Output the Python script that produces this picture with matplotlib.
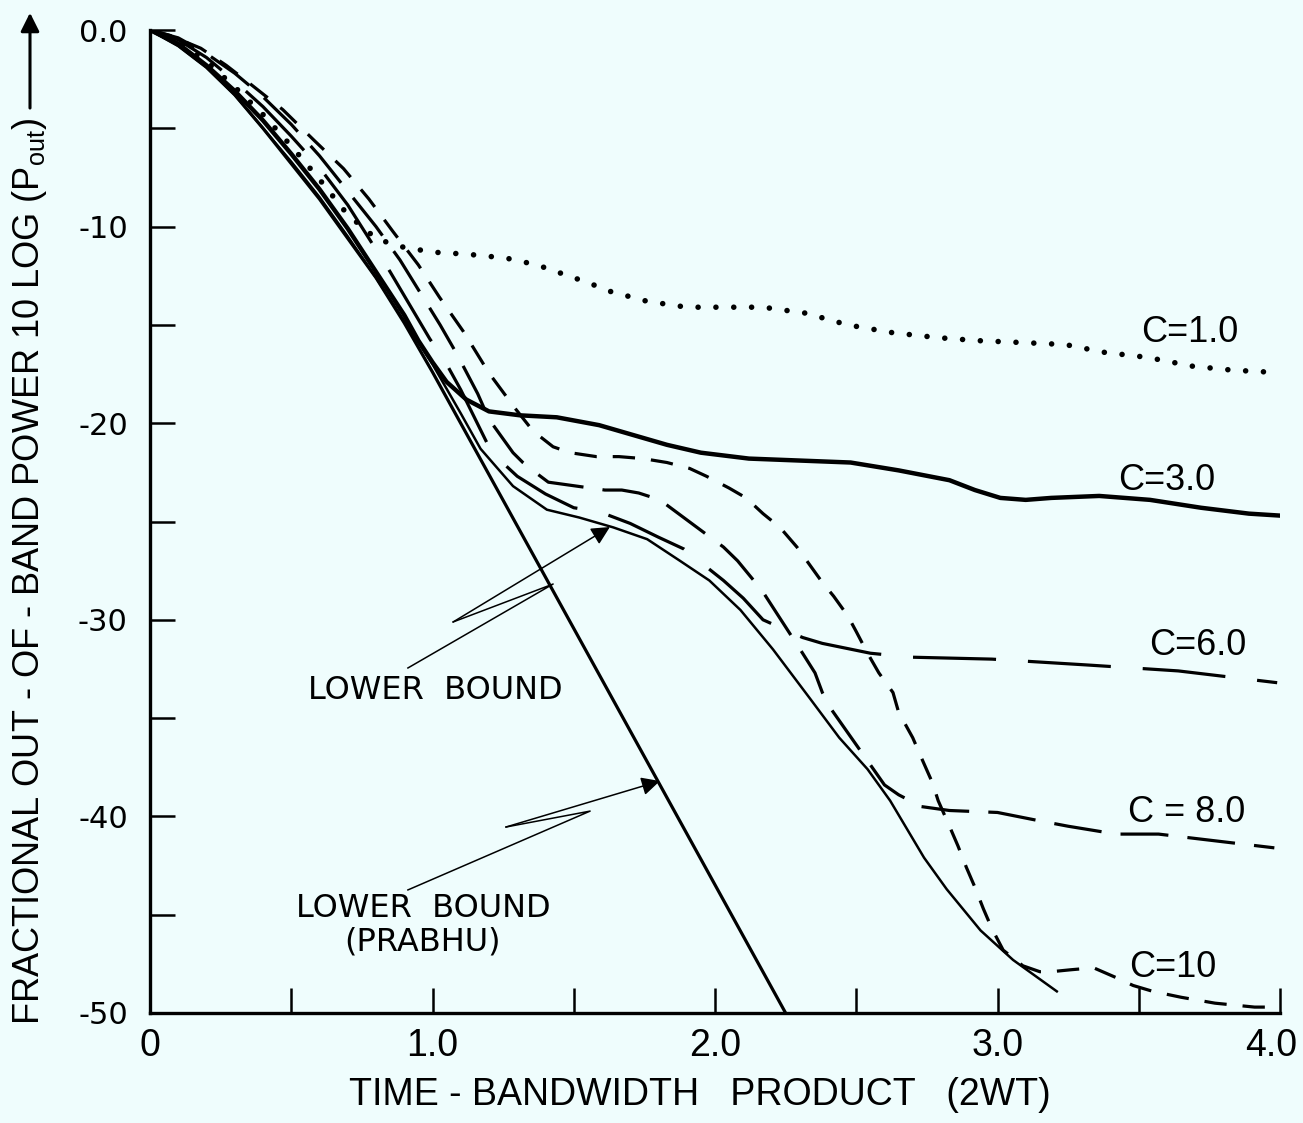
import matplotlib
matplotlib.use("Agg")
import matplotlib.pyplot as plt
from matplotlib import font_manager
from matplotlib.transforms import ScaledTranslation

# fonts: a narrow face for most texts, if one is there
names = {f.name for f in font_manager.fontManager.ttflist}
narrow = "Liberation Sans Narrow" if "Liberation Sans Narrow" in names else "Liberation Sans"
plt.rcParams["font.family"] = [narrow, "DejaVu Sans"]
plt.rcParams["mathtext.fontset"] = "custom"
plt.rcParams["mathtext.rm"] = narrow

bg = "#effdfd"

# ---- data (x = 2WT, y = dB) ----
x_c1 = [0, 0.1, 0.2, 0.3, 0.4, 0.5, 0.6, 0.7, 0.8, 0.88, 1.0, 1.12, 1.26, 1.37, 1.48,
        1.55, 1.63, 1.76, 1.9, 2.04, 2.17, 2.32, 2.47, 2.63, 2.79, 2.93, 3.09, 3.24,
        3.38, 3.53, 3.69, 3.83, 3.96]
y_c1 = [0, -0.6, -1.6, -2.9, -4.3, -5.9, -7.6, -9.4, -10.6, -11.0, -11.3, -11.4, -11.6,
        -11.95, -12.5, -12.85, -13.3, -13.8, -14.1, -14.1, -14.1, -14.4, -15.0, -15.4,
        -15.65, -15.8, -15.9, -16.0, -16.4, -16.65, -17.1, -17.3, -17.4]

x_c3 = [0, 0.1, 0.2, 0.3, 0.4, 0.5, 0.6, 0.7, 0.8, 0.9, 0.95, 1.0, 1.05, 1.12, 1.2,
        1.31, 1.44, 1.59, 1.71, 1.83, 1.95, 2.12, 2.3, 2.48, 2.65, 2.83, 2.92, 3.01,
        3.1, 3.19, 3.36, 3.54, 3.72, 3.89, 4.0]
y_c3 = [0, -0.7, -1.8, -3.1, -4.6, -6.3, -8.1, -10.1, -12.3, -14.5, -15.8, -16.9, -17.9,
        -18.8, -19.4, -19.6, -19.7, -20.1, -20.6, -21.1, -21.5, -21.8, -21.9, -22.0,
        -22.4, -22.9, -23.4, -23.8, -23.9, -23.8, -23.7, -23.9, -24.3, -24.6, -24.7]

x_c6 = [0, 0.1, 0.2, 0.3, 0.4, 0.5, 0.6, 0.7, 0.85, 0.99, 1.05, 1.1, 1.21, 1.3, 1.4,
        1.5, 1.59, 1.7, 1.8, 1.89, 1.96, 2.03, 2.1, 2.17, 2.31, 2.38, 2.55, 2.69, 2.98,
        3.32, 3.64, 3.99]
y_c6 = [0, -0.5, -1.4, -2.6, -3.9, -5.4, -7.0, -8.9, -12.3, -15.7, -17.0, -18.3, -21.5,
        -22.7, -23.6, -24.3, -24.5, -25.1, -25.8, -26.4, -27.2, -28.0, -28.9, -30.0,
        -30.9, -31.2, -31.7, -31.9, -32.0, -32.3, -32.6, -33.2]

x_c8 = [0, 0.1, 0.2, 0.3, 0.4, 0.5, 0.6, 0.7, 0.8, 0.885, 1.027, 1.087, 1.16, 1.2,
        1.285, 1.32, 1.373, 1.41, 1.61, 1.67, 1.73, 1.805, 2.03, 2.08, 2.12, 2.166,
        2.31, 2.354, 2.38, 2.414, 2.6, 2.65, 2.73, 2.83, 3.0, 3.14, 3.25, 3.42, 3.57,
        3.98]
y_c8 = [0, -0.4, -1.2, -2.2, -3.4, -4.8, -6.4, -8.2, -10.0, -11.7, -15.0, -16.5, -18.5,
        -19.8, -21.5, -22.0, -22.6, -23.0, -23.4, -23.4, -23.55, -23.9, -26.3, -27.0,
        -27.7, -28.5, -31.7, -32.7, -33.7, -34.6, -38.4, -38.9, -39.5, -39.7, -39.8,
        -40.2, -40.5, -40.9, -40.9, -41.6]

x_c10 = [0, 0.07, 0.18, 0.27, 0.36, 0.47, 0.58, 0.685, 0.775, 0.86, 0.95, 1.025, 1.11,
         1.2, 1.29, 1.356, 1.427, 1.487, 1.58, 1.66, 1.745, 1.83, 1.91, 1.97, 2.05,
         2.11, 2.17, 2.23, 2.29, 2.33, 2.38, 2.42, 2.47, 2.5, 2.54, 2.58, 2.63, 2.65,
         2.7, 2.73, 2.77, 2.79, 2.83, 2.86, 2.89, 2.92, 2.95, 2.98, 3.02, 3.09, 3.15,
         3.19, 3.26, 3.34, 3.42, 3.48, 3.55, 3.65, 3.77, 3.91, 3.97]
y_c10 = [0, -0.27, -0.93, -1.8, -2.8, -4.05, -5.6, -7.05, -8.6, -10.25, -11.95, -13.6,
         -15.35, -17.45, -19.2, -20.4, -21.2, -21.5, -21.7, -21.7, -21.8, -22.0, -22.3,
         -22.7, -23.3, -23.8, -24.6, -25.3, -26.3, -27.1, -28.1, -28.8, -29.8, -30.6,
         -31.7, -32.7, -33.7, -34.7, -36.0, -37.0, -38.3, -39.2, -40.5, -41.5, -42.6,
         -43.6, -44.7, -45.7, -46.8, -47.6, -47.9, -47.9, -47.8, -47.7, -48.2, -48.6,
         -48.9, -49.2, -49.5, -49.7, -49.7]

x_lb = [0, 0.1, 0.2, 0.3, 0.4, 0.5, 0.6, 0.7, 0.8, 0.9, 1.0, 1.1, 1.17, 1.285, 1.405,
        1.52, 1.64, 1.76, 1.876, 1.98, 2.09, 2.205, 2.336, 2.44, 2.54, 2.62, 2.74, 2.82,
        2.94, 3.055, 3.21]
y_lb = [0, -0.8, -1.9, -3.3, -5.0, -6.7, -8.5, -10.5, -12.6, -14.8, -17.0, -19.5, -21.3,
        -23.2, -24.4, -24.8, -25.3, -25.9, -27.0, -28.0, -29.5, -31.5, -34.0, -36.0,
        -37.6, -39.2, -42.1, -43.7, -45.8, -47.3, -48.9]

x_prabhu = [0, 0.1, 0.2, 0.3, 0.4, 0.5, 0.6, 0.7, 0.8, 0.9, 1.0, 2.25]
y_prabhu = [0, -0.8, -1.9, -3.3, -5.0, -6.8, -8.6, -10.6, -12.6, -14.9, -17.4, -50.0]

xticks_major = [0, 1, 2, 3, 4]
xtick_labels = ["0", "1.0", "2.0", "3.0", "4.0"]
xticks_minor = [0.5, 1.5, 2.5, 3.5]
yticks_major = [0, -10, -20, -30, -40, -50]
ytick_labels = ["0.0", "-10", "-20", "-30", "-40", "-50"]
yticks_minor = [-5, -15, -25, -35, -45]

curve_labels = ["C=1.0", "C=3.0", "C=6.0", "C = 8.0", "C=10"]
label_x = [3.68, 3.6, 3.71, 3.67, 3.62]
label_y = [-15.4, -22.9, -31.3, -39.8, -47.7]

fig = plt.figure(figsize=(13.03, 11.23), dpi=100, facecolor=bg)
ax = fig.add_axes([150 / 1303, 1 - 1013 / 1123, 1130 / 1303, 983 / 1123])
ax.set_facecolor(bg)

ax.plot(x_c1, y_c1, color="k", lw=4, ls=(0, (0.01, 3.2)), dash_capstyle="round")
ax.plot(x_c3, y_c3, color="k", lw=3.2, solid_capstyle="round")
ax.plot(x_c6, y_c6, color="k", lw=2.3, ls=(0, (26, 10)))
ax.plot(x_c8, y_c8, color="k", lw=2.3, ls=(0, (15, 6)))
ax.plot(x_c10, y_c10, color="k", lw=2.3, ls=(0, (7, 5)))
ax.plot(x_lb, y_lb, color="k", lw=1.8)
ax.plot(x_prabhu, y_prabhu, color="k", lw=2.3)

for s, lx, ly in zip(curve_labels, label_x, label_y):
    ax.text(lx, ly, s, fontsize=26, ha="center", va="center")

# annotation labels with zig-zag leaders
ax.text(1.009, -33.6, "LOWER  BOUND", fontsize=23, ha="center", va="center",
        family="DejaVu Sans")
ax.text(0.966, -44.7, "LOWER  BOUND", fontsize=23, ha="center", va="center",
        family="DejaVu Sans")
ax.text(0.966, -46.4, "(PRABHU)", fontsize=23, ha="center", va="center",
        family="DejaVu Sans")

ax.plot([0.913, 1.427, 1.073], [-32.45, -28.18, -30.11], color="k", lw=1.1)
ax.annotate("", xy=(1.628, -25.28), xytext=(1.073, -30.11),
            arrowprops=dict(arrowstyle="-|>", color="k", lw=1.1, mutation_scale=28,
                            shrinkA=0, shrinkB=0))
ax.plot([0.913, 1.558, 1.26], [-43.74, -39.73, -40.54], color="k", lw=1.1)
ax.annotate("", xy=(1.805, -38.2), xytext=(1.26, -40.54),
            arrowprops=dict(arrowstyle="-|>", color="k", lw=1.1, mutation_scale=28,
                            shrinkA=0, shrinkB=0))

ax.set_xlim(0, 4)
ax.set_ylim(-50, 0)
for side in ["top", "right"]:
    ax.spines[side].set_visible(False)
for side in ["left", "bottom"]:
    ax.spines[side].set_linewidth(2.4)

ax.set_xticks(xticks_major)
ax.set_xticklabels(xtick_labels)
ax.set_xticks(xticks_minor, minor=True)
ax.set_yticks(yticks_major)
ax.set_yticklabels(ytick_labels, family="DejaVu Sans")
ax.set_yticks(yticks_minor, minor=True)
ax.tick_params(which="both", direction="in", length=18, width=1.8)
ax.tick_params(axis="x", labelsize=27, pad=11)
ax.tick_params(axis="y", labelsize=22, pad=16)

# keep "4.0" inside the canvas
last = ax.get_xticklabels()[-1]
last.set_transform(last.get_transform() + ScaledTranslation(-9 / 100, 0, fig.dpi_scale_trans))

fig.text(700 / 1303, 1 - 1095 / 1123, "TIME - BANDWIDTH   PRODUCT   (2WT)",
         fontsize=27, ha="center", va="center")

ylab = fig.text(30 / 1303, 1 - 1025 / 1123,
                r"FRACTIONAL OUT - OF - BAND POWER 10 LOG (P$_{\rm out}$)",
                fontsize=26, rotation=90, ha="center", va="bottom")
fig.canvas.draw()
bb = ylab.get_window_extent()
top = bb.y1 / fig.bbox.height
fig.add_artist(matplotlib.patches.FancyArrowPatch(
    (30 / 1303, top + 0.006), (30 / 1303, 1 - 10 / 1123),
    transform=fig.transFigure, arrowstyle="-|>", mutation_scale=28,
    color="k", lw=2.2))

fig.savefig("out.png", dpi=100, facecolor=bg)
